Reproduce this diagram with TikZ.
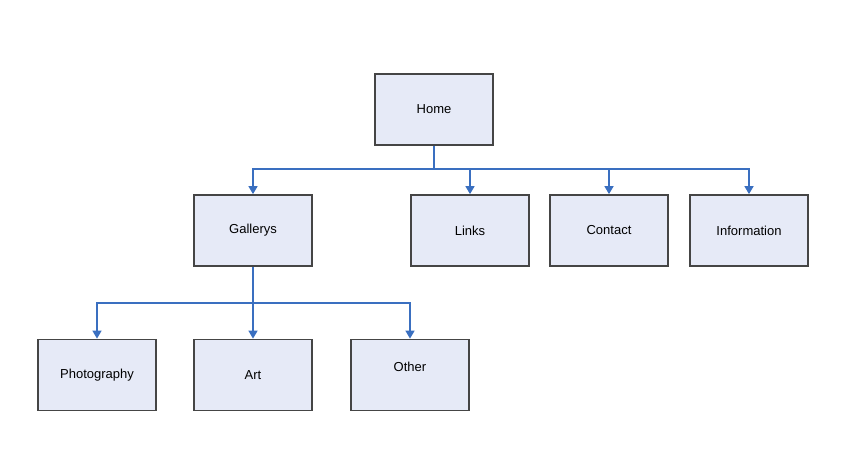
\documentclass[tikz,border=0pt]{standalone}
\usepackage{fontspec}
\setmainfont{Liberation Sans}
\usetikzlibrary{arrows.meta}
\definecolor{boxfill}{HTML}{E6EAF7}
\definecolor{boxline}{HTML}{454545}
\definecolor{conn}{HTML}{3A6FC0}
\begin{document}
\begin{tikzpicture}[x=1pt,y=-1pt,
  pagebox/.style={draw=boxline, line width=1.8pt, fill=boxfill, minimum width=118pt, minimum height=71pt, inner sep=0pt, font=\fontsize{13}{15}\selectfont},
  connline/.style={draw=conn, line width=1.6pt, -{Triangle[length=8pt,width=9pt]}}]
\useasboundingbox (0,0) rectangle (859,469);
\fill[white] (0,0) rectangle (859,469);
\node[pagebox] (home) at (434,109.5) {Home};
\node[pagebox] (gal) at (253,230.5) {Gallerys};
\node[pagebox] (links) at (470,230.5) {Links};
\node[pagebox] (contact) at (609,230.5) {Contact};
\node[pagebox] (info) at (749,230.5) {Information};
\node[pagebox] (photo) at (97,375) {Photography};
\node[pagebox] (art) at (253,375) {Art};
\node[pagebox, text depth=16pt] (other) at (410,375) {Other};
\coordinate (hb) at ([yshift=-23pt]home.south);
\coordinate (gb) at ([yshift=-36pt]gal.south);
\foreach \t in {gal,links,contact,info}
  \draw[connline] (home.south) -- (hb) -| (\t.north);
\foreach \t in {photo,art,other}
  \draw[connline] (gal.south) -- (gb) -| (\t.north);
\end{tikzpicture}
\end{document}
